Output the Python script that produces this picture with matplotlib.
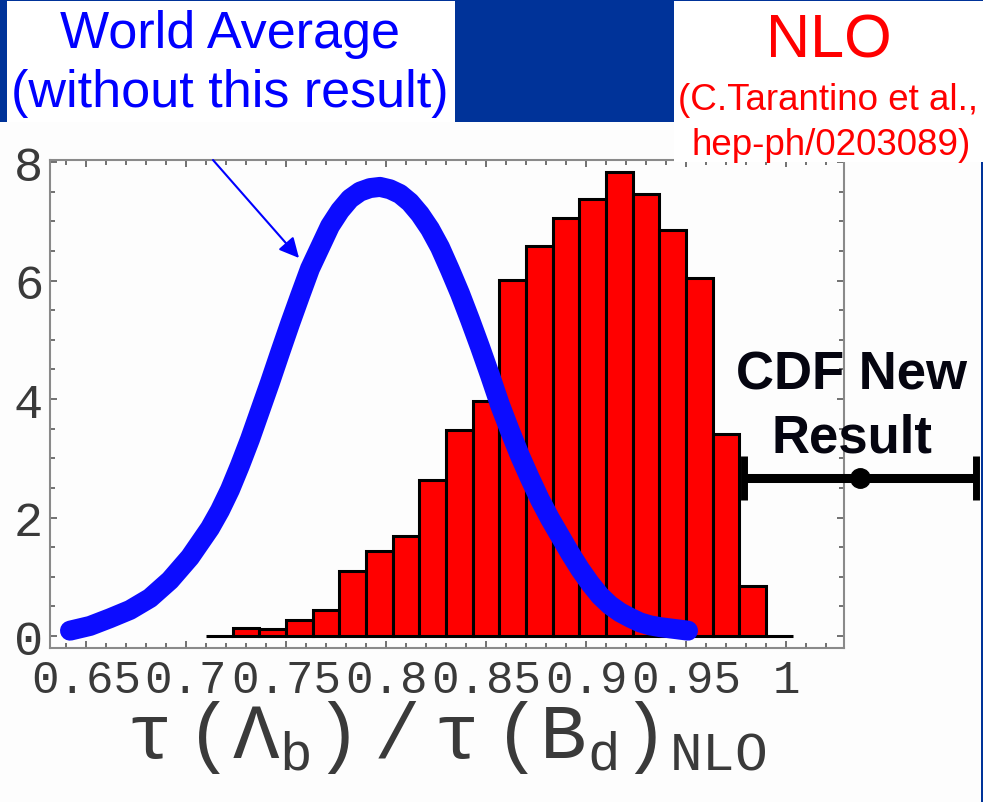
import matplotlib
matplotlib.use('Agg')
import matplotlib.pyplot as plt
from matplotlib.patches import Rectangle
from matplotlib.ticker import MultipleLocator
import numpy as np

# ---------------- data ----------------
bin_edges = [0.7100, 0.7233, 0.7367, 0.7500, 0.7633, 0.7767, 0.7900, 0.8033,
             0.8167, 0.8300, 0.8433, 0.8567, 0.8700, 0.8833, 0.8967, 0.9100,
             0.9233, 0.9367, 0.9500, 0.9633, 0.9767, 0.9900, 1.0033]
nlo_density = [0.00, 0.13, 0.12, 0.27, 0.44, 1.10, 1.44, 1.69, 2.63, 3.47, 3.96,
               6.01, 6.58, 7.05, 7.38, 7.83, 7.46, 6.85, 6.04, 3.41, 0.85, 0.00]

wa_x = [0.642, 0.652, 0.662, 0.672, 0.682, 0.692, 0.702, 0.712, 0.717, 0.722,
        0.727, 0.732, 0.737, 0.742, 0.747, 0.752, 0.757, 0.762, 0.767, 0.772,
        0.777, 0.782, 0.787, 0.792, 0.797, 0.802, 0.807, 0.812, 0.817, 0.822,
        0.827, 0.832, 0.837, 0.842, 0.847, 0.852, 0.857, 0.862, 0.867, 0.872,
        0.877, 0.882, 0.887, 0.892, 0.897, 0.902, 0.907, 0.912, 0.917, 0.922,
        0.927, 0.932, 0.937, 0.944, 0.951]
wa_y = [0.09, 0.17, 0.30, 0.44, 0.64, 0.94, 1.33, 1.82, 2.12, 2.47,
        2.88, 3.32, 3.80, 4.28, 4.78, 5.27, 5.74, 6.20, 6.56, 6.92,
        7.18, 7.38, 7.50, 7.56, 7.58, 7.54, 7.46, 7.32, 7.12, 6.87,
        6.56, 6.18, 5.78, 5.34, 4.88, 4.40, 3.90, 3.46, 3.04, 2.66,
        2.30, 1.98, 1.69, 1.40, 1.13, 0.89, 0.68, 0.52, 0.40, 0.31,
        0.23, 0.18, 0.15, 0.12, 0.09]

cdf_value = 1.037
cdf_error = 0.058
cdf_plot_y = 2.67

x_tick_values = [0.65, 0.70, 0.75, 0.80, 0.85, 0.90, 0.95, 1.00]
x_tick_labels = ['0.65', '0.7', '0.75', '0.8', '0.85', '0.9', '0.95', '1']
y_tick_values = [0, 2, 4, 6, 8]
y_tick_labels = ['0', '2', '4', '6', '8']

# ---------------- figure ----------------
plt.rcParams['mathtext.fontset'] = 'custom'
plt.rcParams['mathtext.rm'] = 'Liberation Mono'
plt.rcParams['mathtext.it'] = 'Liberation Mono'
plt.rcParams['mathtext.bf'] = 'Liberation Mono:bold'

W, H = 983, 803
fig = plt.figure(figsize=(W / 100, H / 100), dpi=100)
fig.patch.set_facecolor('#fdfdfd')


def fx(px):
    return px / W


def fy(py):
    return 1 - py / H


ax = fig.add_axes([fx(50), fy(649), fx(844) - fx(50), fy(161) - fy(649)])
ax.set_facecolor('#fdfdfd')

lefts = bin_edges[:-1]
widths = np.diff(bin_edges)
ax.bar(lefts, nlo_density, width=widths, align='edge', color='#ff0000',
       edgecolor='black', linewidth=2.2, zorder=1)
ax.plot(wa_x, wa_y, color='#0c0cff', lw=14.4, solid_capstyle='round',
        solid_joinstyle='round', zorder=2)

eb = ax.errorbar([cdf_value], [cdf_plot_y], xerr=[cdf_error], fmt='o',
                 color='black', ms=14, elinewidth=6.5, capsize=16, capthick=5,
                 zorder=4)
data_line, caplines, barcols = eb.lines
data_line.set_clip_on(False)
for c in caplines:
    c.set_clip_on(False)
for b in barcols:
    b.set_clip_on(False)

ax.annotate('', xy=(0.7565, 6.38), xytext=(0.7135, 8.034),
            arrowprops=dict(arrowstyle='-|>,head_length=0.6,head_width=0.3',
                            color='#0000ff', lw=1.5, mutation_scale=20,
                            shrinkA=0, shrinkB=0),
            annotation_clip=False, zorder=5)

ax.set_xlim(0.632, 1.029)
ax.set_ylim(-0.2025, 8.034)
ax.set_xticks(x_tick_values)
ax.set_xticklabels(x_tick_labels)
ax.xaxis.set_minor_locator(MultipleLocator(0.01))
ax.set_yticks(y_tick_values)
ax.set_yticklabels(y_tick_labels)
ax.yaxis.set_minor_locator(MultipleLocator(0.5))
ax.tick_params(which='both', direction='in', top=True, right=True,
               color='#666666', width=1.3)
ax.tick_params(which='major', length=5)
ax.tick_params(which='minor', length=3.5)
ax.tick_params(axis='x', labelsize=33, pad=7, labelcolor='#3a3a3a')
ax.tick_params(axis='y', labelsize=35, pad=5, labelcolor='#3a3a3a')
for lab in ax.get_xticklabels() + ax.get_yticklabels():
    lab.set_fontfamily('Liberation Mono')
for sp in ax.spines.values():
    sp.set_color('#8a8a8a')
    sp.set_linewidth(1.5)

fig.text(fx(446), fy(758),
         r'$\tau\;(\Lambda_{\rm b})\;/\;\tau\;({\rm B}_{\rm d})_{\rm NLO}$',
         fontsize=56, ha='center', va='baseline', color='#3a3a3a')


# ---------------- slide decorations ----------------
def rect(x0, y0, x1, y1, color, z):
    fig.add_artist(Rectangle((fx(x0), fy(y1)), fx(x1) - fx(x0), fy(y0) - fy(y1),
                             transform=fig.transFigure, facecolor=color,
                             edgecolor='none', zorder=z))


navy = '#003399'
rect(7, 0, 455, 123, 'white', 5)
rect(674, 0, 983, 163, 'white', 5)
rect(0, 0, 7, 123, navy, 6)
rect(455, 0, 674, 123, navy, 6)
rect(0, 0, 983, 1.5, navy, 6)
rect(980.5, 163, 983, 803, navy, 6)

sans = 'Liberation Sans'
fig.text(fx(230), fy(48), 'World Average', fontsize=37.5, family=sans,
         color='#0000ff', ha='center', va='baseline', zorder=10)
fig.text(fx(230), fy(107), '(without this result)', fontsize=37.5, family=sans,
         color='#0000ff', ha='center', va='baseline', zorder=10)
fig.text(fx(829), fy(58), 'NLO', fontsize=44, family=sans,
         color='#ff0000', ha='center', va='baseline', zorder=10)
fig.text(fx(828), fy(110), '(C.Tarantino et al.,', fontsize=26.5, family=sans,
         color='#ff0000', ha='center', va='baseline', zorder=10)
fig.text(fx(831), fy(155), 'hep-ph/0203089)', fontsize=26.5, family=sans,
         color='#ff0000', ha='center', va='baseline', zorder=10)
fig.text(fx(852), fy(390), 'CDF New', fontsize=38, family=sans, weight='bold',
         color='#050510', ha='center', va='baseline', zorder=10)
fig.text(fx(852), fy(453), 'Result', fontsize=38, family=sans, weight='bold',
         color='#050510', ha='center', va='baseline', zorder=10)

fig.savefig('out.png', dpi=100, facecolor=fig.get_facecolor())
